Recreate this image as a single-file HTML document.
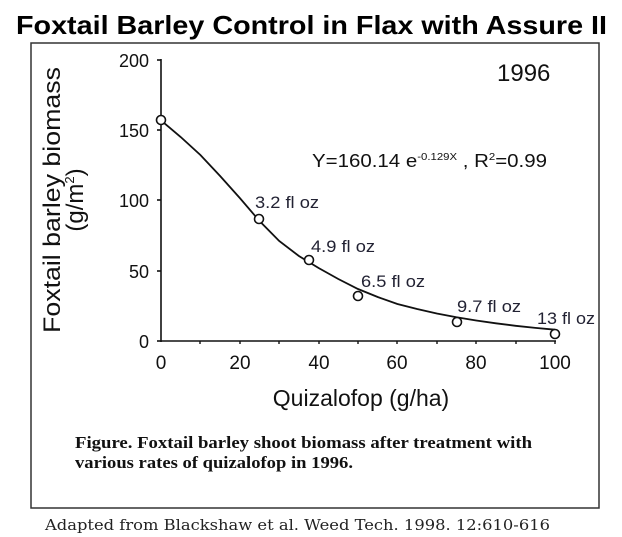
<!DOCTYPE html>
<html><head><meta charset="utf-8"><style>
html,body{margin:0;padding:0;background:#fff;}
svg{display:block;}
</style></head><body>
<svg width="622" height="537" viewBox="0 0 622 537" xmlns="http://www.w3.org/2000/svg">
<text x="16" y="34" font-family="Liberation Sans, sans-serif" font-weight="bold" font-size="26" fill="#000" textLength="591" lengthAdjust="spacingAndGlyphs">Foxtail Barley Control in Flax with Assure II</text>
<rect x="31" y="43" width="568" height="465" fill="none" stroke="#333" stroke-width="1.5"/>
<g stroke="#111" stroke-width="1.6" fill="none">
<line x1="161" y1="59" x2="161" y2="342"/>
<line x1="161" y1="341" x2="556" y2="341"/>
<line x1="157" y1="60" x2="161" y2="60"/>
<line x1="157" y1="130" x2="161" y2="130"/>
<line x1="157" y1="200" x2="161" y2="200"/>
<line x1="157" y1="271" x2="161" y2="271"/>
<line x1="157" y1="341" x2="161" y2="341"/>
</g>
<g stroke="#111" stroke-width="1.4">
<line x1="200" y1="341" x2="200" y2="344"/><line x1="240" y1="341" x2="240" y2="344"/>
<line x1="279" y1="341" x2="279" y2="344"/><line x1="319" y1="341" x2="319" y2="344"/>
<line x1="358" y1="341" x2="358" y2="344"/><line x1="397" y1="341" x2="397" y2="344"/>
<line x1="437" y1="341" x2="437" y2="344"/><line x1="476" y1="341" x2="476" y2="344"/>
<line x1="516" y1="341" x2="516" y2="344"/><line x1="555" y1="341" x2="555" y2="344"/>
</g>
<g font-family="Liberation Sans, sans-serif" font-size="18" fill="#111" text-anchor="end">
<text x="149" y="67">200</text><text x="149" y="137">150</text><text x="149" y="207">100</text>
<text x="149" y="278">50</text><text x="149" y="348">0</text>
</g>
<g font-family="Liberation Sans, sans-serif" font-size="19" fill="#111" text-anchor="middle">
<text x="161" y="369">0</text><text x="240" y="369">20</text><text x="319" y="369">40</text>
<text x="397" y="369">60</text><text x="476" y="369">80</text><text x="555" y="369">100</text>
</g>
<g font-family="Liberation Sans, sans-serif" font-size="24" fill="#111" text-anchor="middle">
<text transform="translate(60,200) rotate(-90)" textLength="266" lengthAdjust="spacingAndGlyphs">Foxtail barley biomass</text>
<text transform="translate(83,200) rotate(-90)">(g/m<tspan font-size="13" dy="-9">2</tspan><tspan dy="9">)</tspan></text>
<text x="361" y="406" font-size="23">Quizalofop (g/ha)</text>
</g>
<text x="497" y="81" font-family="Liberation Sans, sans-serif" font-size="24" fill="#111">1996</text>
<text x="312" y="167" font-family="Liberation Sans, sans-serif" font-size="18" fill="#111" textLength="235" lengthAdjust="spacingAndGlyphs">Y=160.14 e<tspan font-size="10" dy="-7">-0.129X</tspan><tspan dy="7"> , R</tspan><tspan font-size="10" dy="-7">2</tspan><tspan dy="7">=0.99</tspan></text>
<polyline fill="none" stroke="#111" stroke-width="1.8" points="161,120.4 180.7,137 200.4,155 220.1,176 239.8,198 259.5,221 279.2,241 298.9,256 318.6,268 338.3,279 358,289 377.7,297 397.4,304 417.1,309 436.8,313.5 456.5,317.3 476.2,320.5 495.9,323.3 515.6,325.8 535.3,327.9 555,329.7"/>
<g fill="#fff" stroke="#111" stroke-width="1.6">
<circle cx="161" cy="120" r="4.5"/><circle cx="259" cy="219" r="4.5"/>
<circle cx="309" cy="260" r="4.5"/><circle cx="358" cy="296" r="4.5"/>
<circle cx="457" cy="322" r="4.5"/><circle cx="555" cy="334" r="4.5"/>
</g>
<g font-family="Liberation Sans, sans-serif" font-size="17" fill="#222233">
<text x="255" y="208" textLength="64" lengthAdjust="spacingAndGlyphs">3.2 fl oz</text>
<text x="311" y="252" textLength="64" lengthAdjust="spacingAndGlyphs">4.9 fl oz</text>
<text x="361" y="287" textLength="64" lengthAdjust="spacingAndGlyphs">6.5 fl oz</text>
<text x="457" y="312" textLength="64" lengthAdjust="spacingAndGlyphs">9.7 fl oz</text>
<text x="537" y="324" textLength="58" lengthAdjust="spacingAndGlyphs">13 fl oz</text>
</g>
<g font-family="Liberation Serif, serif" font-weight="bold" font-size="17" fill="#111">
<text x="75" y="448" textLength="457" lengthAdjust="spacingAndGlyphs">Figure.  Foxtail barley shoot biomass after treatment with</text>
<text x="75" y="468" textLength="278" lengthAdjust="spacingAndGlyphs">various rates of quizalofop in 1996.</text>
</g>
<text x="45" y="530" font-family="DejaVu Serif, serif" font-size="15" fill="#222" textLength="505" lengthAdjust="spacingAndGlyphs">Adapted from Blackshaw et al. Weed Tech. 1998. 12:610-616</text>
</svg>
</body></html>
